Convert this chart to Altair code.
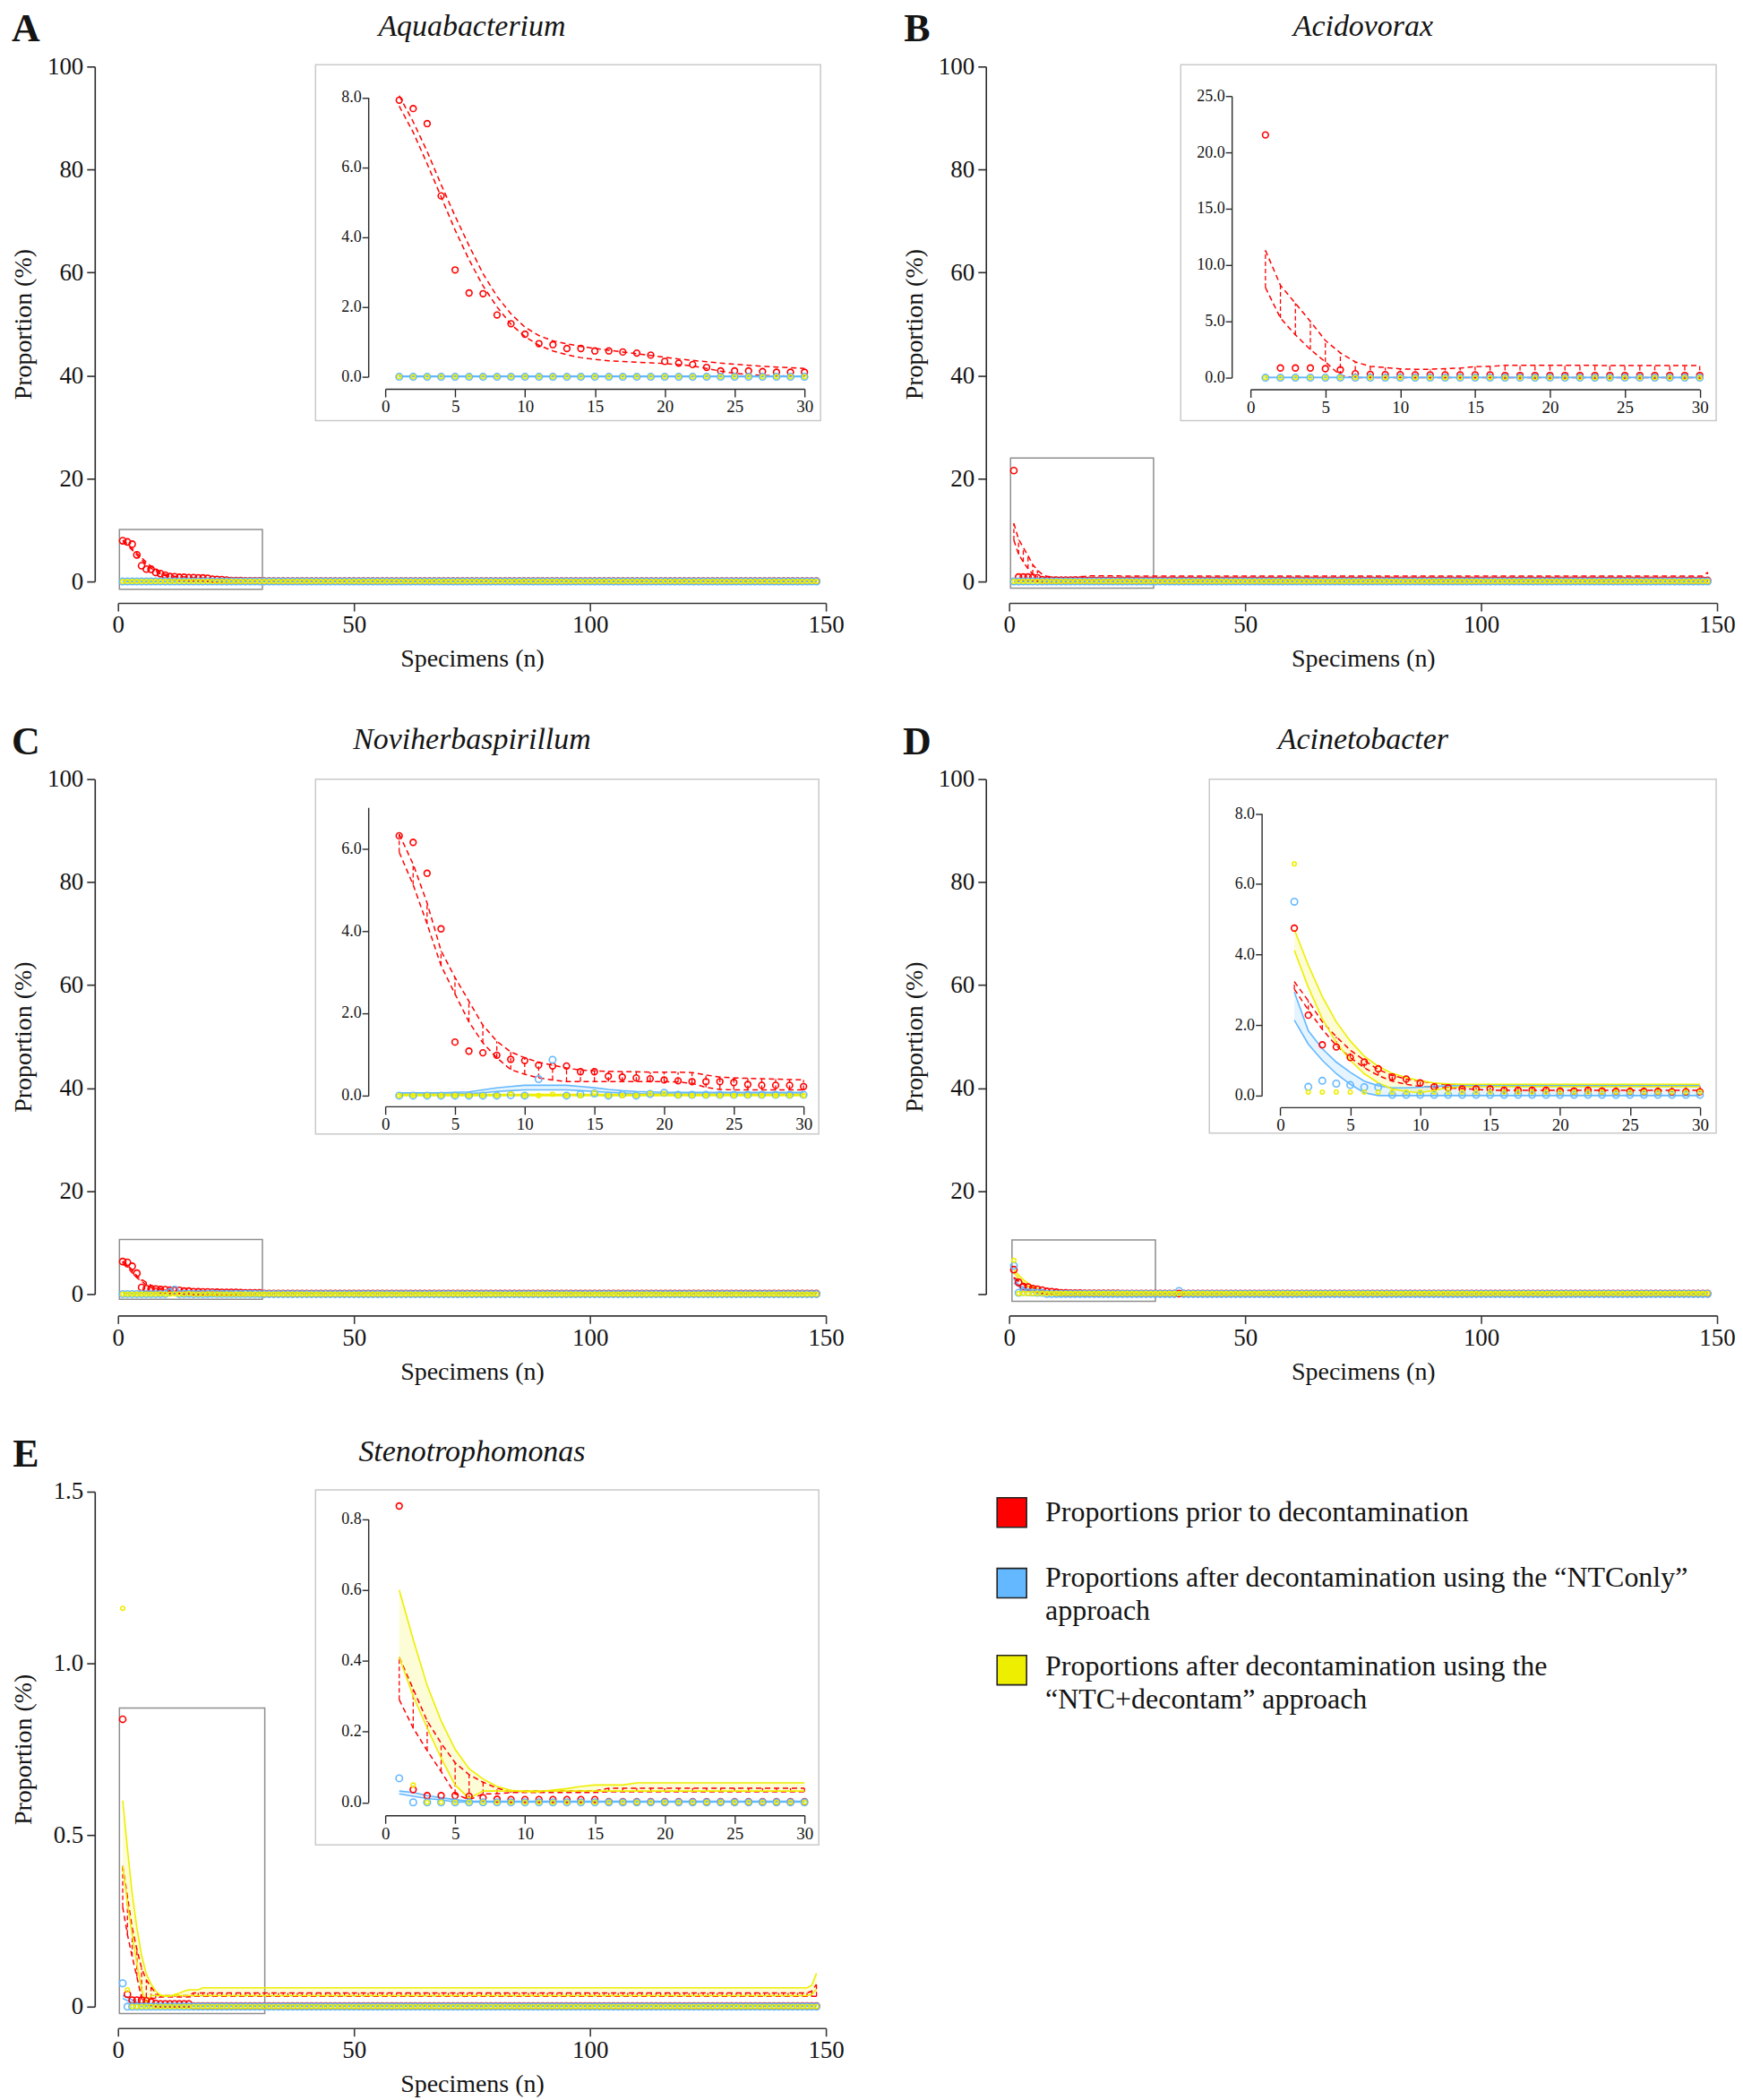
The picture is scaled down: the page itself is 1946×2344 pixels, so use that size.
import altair as alt
import pandas as pd

FONT = "Liberation Serif"
INK = "#141414"
RED = "#FF0000"
BLUE = "#63B8FF"
YELLOW = "#EEEE00"
FRAME_GRAY = "#C9C9C9"
BOX_GRAY = "#8E8E8E"
AX = "#2A2A2A"
W, H = 792, 576

specimens = list(range(1, 149))

# ---------------- Panel A : Aquabacterium ----------------
A_red = [7.92, 7.68, 7.25, 5.18, 3.06, 2.40, 2.38, 1.77, 1.52, 1.22,
         0.95, 0.92, 0.81, 0.81, 0.74, 0.74, 0.71, 0.68, 0.62, 0.44,
         0.39, 0.35, 0.27, 0.17, 0.17, 0.17, 0.15, 0.13, 0.13, 0.13] + [0.08] * 118
A_blue = [0.0] * 148
A_yellow = [0.0] * 148
A_red_hi = [8.05, 7.30, 6.45, 5.50, 4.60, 3.75, 2.95, 2.30, 1.80, 1.42,
            1.18, 1.03, 0.94, 0.87, 0.81, 0.76, 0.71, 0.66, 0.61, 0.56,
            0.51, 0.47, 0.43, 0.39, 0.36, 0.33, 0.30, 0.28, 0.26, 0.24] + [0.20] * 118
A_red_lo = [7.75, 7.00, 6.10, 5.15, 4.20, 3.35, 2.60, 2.00, 1.50, 1.15,
            0.90, 0.74, 0.63, 0.55, 0.50, 0.46, 0.44, 0.42, 0.40, 0.38,
            0.35, 0.31, 0.24, 0.16, 0.10, 0.06, 0.04, 0.03, 0.02, 0.02] + [0.0] * 118
A_blue_hi = [0.02] * 148
A_blue_lo = [0.0] * 148

# ---------------- Panel B : Acidovorax ----------------
B_red = [21.55, 0.86, 0.86, 0.86, 0.80, 0.70, 0.35, 0.29, 0.27, 0.27,
         0.25, 0.25, 0.25, 0.25, 0.25, 0.25] + [0.20] * 14 + [0.20] * 118
B_blue = [0.0] * 148
B_yellow = [0.0] * 148
B_red_hi = [11.3, 8.2, 6.6, 5.0, 3.3, 2.2, 1.4, 1.0, 0.9, 0.78,
            0.75, 0.75, 0.80, 0.85, 0.98, 1.0, 1.1, 1.1, 1.1, 1.1,
            1.1, 1.1, 1.1, 1.07, 1.07, 1.07, 1.07, 1.07, 1.07, 1.07] + [1.07] * 117 + [1.8]
B_red_lo = [8.0, 5.3, 3.8, 2.5, 1.4, 0.2] + [0.0] * 24 + [0.0] * 118
B_blue_hi = [0.02] * 148
B_blue_lo = [0.0] * 148

# ---------------- Panel C : Noviherbaspirillum ----------------
C_red = [6.31, 6.15, 5.40, 4.05, 1.30, 1.08, 1.04, 0.98, 0.88, 0.85,
         0.74, 0.72, 0.72, 0.58, 0.58, 0.47, 0.45, 0.43, 0.41, 0.38,
         0.36, 0.34, 0.34, 0.34, 0.32, 0.27, 0.25, 0.25, 0.25, 0.22] + [0.10] * 118
C_red_hi = [6.35, 5.62, 4.68, 3.52, 2.87, 2.29, 1.71, 1.32, 1.06, 0.92,
            0.81, 0.74, 0.67, 0.62, 0.60, 0.59, 0.58, 0.58, 0.57, 0.57,
            0.57, 0.56, 0.50, 0.45, 0.43, 0.42, 0.41, 0.40, 0.39, 0.38] + [0.35] * 118
C_red_lo = [5.91, 5.12, 4.17, 3.16, 2.47, 1.79, 1.28, 0.92, 0.63, 0.52,
            0.43, 0.38, 0.34, 0.34, 0.34, 0.34, 0.34, 0.34, 0.34, 0.34,
            0.33, 0.30, 0.20, 0.15, 0.14, 0.14, 0.14, 0.14, 0.14, 0.14] + [0.10] * 118
C_blue = [0.0, 0.0, 0.0, 0.0, 0.0, 0.0, 0.0, 0.0, 0.01, 0.0,
          0.40, 0.87, 0.0, 0.03, 0.05, 0.0, 0.03, 0.0, 0.04, 0.07] + [0.02] * 10 + [0.0] * 118
C_blue_hi = [0.07, 0.07, 0.07, 0.07, 0.08, 0.09, 0.14, 0.19, 0.22, 0.25,
             0.25, 0.25, 0.25, 0.22, 0.19, 0.15, 0.12, 0.10, 0.09, 0.08] + [0.08] * 10 + [0.06] * 118
C_blue_lo = [0.04, 0.04, 0.04, 0.04, 0.04, 0.05, 0.07, 0.10, 0.12, 0.14,
             0.14, 0.14, 0.14, 0.12, 0.10, 0.08, 0.06, 0.05, 0.04, 0.04] + [0.04] * 10 + [0.03] * 118
C_yellow = [0.0, 0.0, 0.0, 0.0, 0.0, 0.0, 0.0, 0.0, 0.04, 0.0,
            0.0, 0.03, 0.0, 0.0, 0.07, 0.0, 0.0, 0.0, 0.05, 0.05] + [0.0] * 10 + [0.0] * 118
C_yellow_hi = [0.03] * 148
C_yellow_lo = [0.0] * 148

# ---------------- Panel D : Acinetobacter ----------------
D_red = [4.75, 2.28, 1.44, 1.38, 1.08, 0.95, 0.76, 0.53, 0.47, 0.36,
         0.25, 0.22, 0.19, 0.19, 0.19, 0.15, 0.15, 0.15, 0.15, 0.13,
         0.13, 0.15, 0.13, 0.12, 0.12, 0.12, 0.12, 0.11, 0.11, 0.11] + [0.10] * 118
D_blue = [5.5, 0.25, 0.42, 0.34, 0.30, 0.24, 0.24] + [0.02] * 23 + [0.02] * 5 + [0.6] + [0.02] * 112
D_yellow = [6.57] + [0.10] * 29 + [0.10] * 118
D_yellow_hi = [4.71, 3.70, 2.81, 2.09, 1.55, 1.12, 0.83, 0.63, 0.51, 0.42,
               0.36, 0.33] + [0.32] * 18 + [0.32] * 118
D_yellow_lo = [4.12, 3.07, 2.18, 1.50, 1.00, 0.62, 0.36, 0.19, 0.12, 0.08,
               0.15, 0.22] + [0.25] * 18 + [0.25] * 118
D_red_hi = [3.23, 2.69, 2.09, 1.67, 1.29, 1.00, 0.74, 0.57, 0.47, 0.41,
            0.35, 0.31, 0.29] + [0.28] * 17 + [0.28] * 118
D_red_lo = [3.02, 2.43, 1.88, 1.42, 1.08, 0.79, 0.57, 0.41, 0.32, 0.26,
            0.24, 0.22, 0.20, 0.18] + [0.15] * 16 + [0.15] * 118
D_blue_hi = [2.94, 1.84, 1.33, 0.95, 0.66, 0.41, 0.28, 0.22, 0.22, 0.24,
             0.26] + [0.28] * 19 + [0.28] * 118
D_blue_lo = [2.14, 1.46, 1.00, 0.62, 0.32, 0.08] + [0.0] * 24 + [0.0] * 118

# ---------------- Panel E : Stenotrophomonas ----------------
E_red = [0.837, 0.036, 0.019, 0.019, 0.019, 0.017, 0.013, 0.009, 0.008, 0.008,
         0.008, 0.008, 0.008, 0.008, 0.008] + [0.002] * 15 + [0.002] * 118
E_blue = [0.068] + [0.0] * 29 + [0.0] * 118
E_yellow = [1.16, 0.049] + [0.0] * 28 + [0.0] * 118
E_yellow_hi = [0.60, 0.46, 0.33, 0.23, 0.15, 0.095, 0.066, 0.045, 0.034, 0.030,
               0.030, 0.035, 0.039, 0.045, 0.049, 0.049, 0.049] + [0.055] * 13 + [0.055] * 116 + [0.062, 0.097]
E_yellow_lo = [0.41, 0.30, 0.21, 0.125, 0.049, 0.011] + [0.032] * 24 + [0.032] * 116 + [0.035, 0.05]
E_red_hi = [0.41, 0.32, 0.23, 0.167, 0.112, 0.078, 0.057, 0.040, 0.030] + [0.032] * 6 + [0.040] * 15 + [0.040] * 116 + [0.045, 0.065]
E_red_lo = [0.29, 0.21, 0.146, 0.087, 0.024, 0.007, 0.024, 0.024] + [0.028] * 7 + [0.030] * 15 + [0.030] * 118
E_blue_hi = [0.032, 0.028, 0.019, 0.013, 0.008] + [0.003] * 25 + [0.003] * 118
E_blue_lo = [0.024, 0.017, 0.011, 0.007] + [0.001] * 26 + [0.001] * 118

# ---------------- Legend ----------------
legend_colors = [RED, BLUE, YELLOW]
legend_lines = [
    ["Proportions prior to decontamination"],
    ["Proportions after decontamination using the \u201cNTConly\u201d", "approach"],
    ["Proportions after decontamination using the", "\u201cNTC+decontam\u201d approach"],
]

ONE = pd.DataFrame({"k": [0]})
NO_FRAME = alt.ViewBackground(stroke="transparent", strokeWidth=0)

PANELS = [
    dict(letter="A", name="Aquabacterium", ymax=100, yvals=[0, 20, 40, 60, 80, 100], yexpr=None,
         red=A_red, blue=A_blue, yellow=A_yellow, red_hi=A_red_hi, red_lo=A_red_lo,
         blue_hi=A_blue_hi, blue_lo=A_blue_lo, yellow_hi=None, yellow_lo=None,
         box=[0.3, 30.6, -1.5, 10.1], hatch=False, anchor=True,
         ins=dict(frame=[221, 786, -2, 396], yax=280, xax=360.5, xr=[299, 768], yr=[347, 34.5],
                  ymax=8, yvals=[0, 2, 4, 6, 8], clip=8.9)),
    dict(letter="B", name="Acidovorax", ymax=100, yvals=[0, 20, 40, 60, 80, 100], yexpr=None,
         red=B_red, blue=B_blue, yellow=B_yellow, red_hi=B_red_hi, red_lo=B_red_lo,
         blue_hi=B_blue_hi, blue_lo=B_blue_lo, yellow_hi=None, yellow_lo=None,
         box=[0.3, 30.6, -1.3, 24.0], hatch=True, anchor=False,
         ins=dict(frame=[192, 791, -2, 396], yax=249, xax=361, xr=[270, 772.6], yr=[348, 33],
                  ymax=25, yvals=[0, 5, 10, 15, 20, 25], clip=27.7)),
    dict(letter="C", name="Noviherbaspirillum", ymax=100, yvals=[0, 20, 40, 60, 80, 100], yexpr=None,
         red=C_red, blue=C_blue, yellow=C_yellow, red_hi=C_red_hi, red_lo=C_red_lo,
         blue_hi=C_blue_hi, blue_lo=C_blue_lo, yellow_hi=C_yellow_hi, yellow_lo=C_yellow_lo,
         box=[0.3, 30.6, -1.0, 10.6], hatch=True, anchor=False,
         ins=dict(frame=[221, 784, 0, 397], yax=280, xax=366, xr=[299, 767], yr=[354, 31.6],
                  ymax=7, yvals=[0, 2, 4, 6], clip=7.6)),
    dict(letter="D", name="Acinetobacter", ymax=100, yvals=[0, 20, 40, 60, 80, 100],
         yexpr="datum.value == 0 ? '' : datum.label",
         red=D_red, blue=D_blue, yellow=D_yellow, red_hi=D_red_hi, red_lo=D_red_lo,
         blue_hi=D_blue_hi, blue_lo=D_blue_lo, yellow_hi=D_yellow_hi, yellow_lo=D_yellow_lo,
         box=[0.6, 31.0, -1.4, 10.5], hatch=True, anchor=False,
         ins=dict(frame=[224, 791, 0, 396], yax=282.5, xax=367, xr=[303.4, 772.8], yr=[354, 38.5],
                  ymax=8, yvals=[0, 2, 4, 6, 8], clip=8.9)),
    dict(letter="E", name="Stenotrophomonas", ymax=1.5, yvals=[0, 0.5, 1.0, 1.5],
         yexpr="datum.value == 0 ? '0' : format(datum.value, '.1f')",
         red=E_red, blue=E_blue, yellow=E_yellow, red_hi=E_red_hi, red_lo=E_red_lo,
         blue_hi=E_blue_hi, blue_lo=E_blue_lo, yellow_hi=E_yellow_hi, yellow_lo=E_yellow_lo,
         box=[0.3, 31.1, -0.02, 0.87], hatch=True, anchor=False,
         ins=dict(frame=[221, 784, -2, 395], yax=280, xax=362, xr=[299, 768], yr=[347.5, 30.7],
                  ymax=0.8, yvals=[0, 0.2, 0.4, 0.6, 0.8], clip=0.88)),
]


def main_x_axis():
    return alt.Axis(values=[0, 50, 100, 150], offset=24, grid=False, labelFlush=False, labelOverlap=False,
                    domainColor="#3A3A3A", domainWidth=1.6, tickColor="#3A3A3A", tickWidth=1.6, tickSize=9,
                    labelFont=FONT, labelFontSize=27, labelColor=INK, labelPadding=3,
                    title="Specimens (n)", titleFont=FONT, titleFontSize=28, titleFontWeight="normal",
                    titleColor=INK, titleY=63, titleBaseline="middle")


def main_y_axis(vals, expr):
    kw = {}
    if expr:
        kw["labelExpr"] = expr
    return alt.Axis(values=vals, offset=26, grid=False, labelFlush=False, labelOverlap=False,
                    domainColor=AX, domainWidth=1.6, tickColor=AX, tickWidth=1.6, tickSize=9,
                    labelFont=FONT, labelFontSize=27, labelColor=INK, labelPadding=4,
                    title="Proportion (%)", titleFont=FONT, titleFontSize=28, titleFontWeight="normal",
                    titleColor=INK, titleX=-79, titleBaseline="middle", **kw)


def inset_x_axis(off):
    return alt.Axis(values=[0, 5, 10, 15, 20, 25, 30], orient="bottom", offset=off, grid=False,
                    labelFlush=False, labelOverlap=False, domainColor=AX, domainWidth=1.4,
                    tickColor=AX, tickWidth=1.4, tickSize=9, labelFont=FONT, labelFontSize=19,
                    labelColor=INK, labelPadding=2, title=None, zindex=1)


def inset_y_axis(off, vals):
    return alt.Axis(values=vals, orient="left", offset=off, format=".1f", grid=False,
                    labelFlush=False, labelOverlap=False, domainColor=AX, domainWidth=1.4,
                    tickColor=AX, tickWidth=1.4, tickSize=7, labelFont=FONT, labelFontSize=18,
                    labelColor=INK, labelPadding=1, title=None, zindex=1)


def data_layers(p, n, xenc, yenc, sizes, clip=None):
    xs = specimens[:n]
    out = []
    # shaded bands (yellow, blue)
    for key, color in (("yellow", YELLOW), ("blue", BLUE)):
        hi, lo = p[key + "_hi"], p[key + "_lo"]
        if hi is None:
            continue
        band = pd.DataFrame({"x": xs, "y": lo[:n], "y2": hi[:n]})
        out.append(alt.Chart(band).mark_area(color=color, opacity=0.16)
                   .encode(x=xenc, y=yenc, y2=alt.Y2("y2")))
    # red dashed band with vertical hatching
    if p["hatch"]:
        band = pd.DataFrame({"x": xs, "y": p["red_lo"][:n], "y2": p["red_hi"][:n]})
        out.append(alt.Chart(band).mark_rule(color=RED, strokeWidth=1.3, strokeDash=[5, 3])
                   .encode(x=xenc, y=yenc, y2=alt.Y2("y2")))
    for arr in (p["red_lo"], p["red_hi"]):
        d = pd.DataFrame({"x": xs, "y": arr[:n]})
        out.append(alt.Chart(d).mark_line(color=RED, strokeWidth=1.5, strokeDash=[6, 4])
                   .encode(x=xenc, y=yenc))
    for key, color in (("blue", BLUE), ("yellow", YELLOW)):
        hi, lo = p[key + "_hi"], p[key + "_lo"]
        if hi is None:
            continue
        for arr in (lo, hi):
            d = pd.DataFrame({"x": xs, "y": arr[:n]})
            out.append(alt.Chart(d).mark_line(color=color, strokeWidth=1.6).encode(x=xenc, y=yenc))
    # points
    for key, color, size in (("red", RED, sizes[0]), ("blue", BLUE, sizes[1]), ("yellow", YELLOW, sizes[2])):
        d = pd.DataFrame({"x": xs, "y": p[key][:n]})
        if clip is not None:
            d = d[d["y"] <= clip]
        out.append(alt.Chart(d).mark_point(shape="circle", filled=False, color=color, size=size,
                                           strokeWidth=1.6, opacity=1)
                   .encode(x=xenc, y=yenc))
    return out


def text_layer(txt, x, y, size, style="normal", weight="normal"):
    return (alt.Chart(ONE)
            .mark_text(text=txt, font=FONT, fontSize=size, fontStyle=style, fontWeight=weight,
                       color=INK, align="center", baseline="middle")
            .encode(x=alt.value(x), y=alt.value(y)))


def build_panel(p):
    mx = alt.X("x:Q", scale=alt.Scale(domain=[0, 150], nice=False, zero=False), axis=main_x_axis())
    my = alt.Y("y:Q", scale=alt.Scale(domain=[0, p["ymax"]], nice=False, zero=False),
               axis=main_y_axis(p["yvals"], p["yexpr"]))
    main = []
    b = p["box"]
    box = pd.DataFrame({"x": [b[0]], "x2": [b[1]], "y": [b[2]], "y2": [b[3]]})
    main.append(alt.Chart(box).mark_rect(fillOpacity=0, stroke=BOX_GRAY, strokeWidth=1.5)
                .encode(x=mx, x2=alt.X2("x2"), y=my, y2=alt.Y2("y2")))
    main += data_layers(p, 148, mx, my, (50, 55, 20))
    main.append(text_layer(p["name"], W / 2, -44, 34, style="italic"))
    main.append(text_layer(p["letter"], -103, -41, 44, weight="bold"))
    if p["anchor"]:
        main.append(alt.Chart(ONE).mark_rect(opacity=0)
                    .encode(x=alt.value(-123.5), x2=alt.value(-121), y=alt.value(-63.7), y2=alt.value(-61)))

    q = p["ins"]
    ix = alt.X("x:Q", scale=alt.Scale(domain=[0, 30], range=q["xr"], nice=False, zero=False),
               axis=inset_x_axis(q["xax"] - H))
    iy = alt.Y("y:Q", scale=alt.Scale(domain=[0, q["ymax"]], range=q["yr"], nice=False, zero=False),
               axis=inset_y_axis(-q["yax"], q["yvals"]))
    f = q["frame"]
    inset = [alt.Chart(ONE).mark_rect(fillOpacity=0, stroke=FRAME_GRAY, strokeWidth=1.5)
             .encode(x=alt.value(f[0]), x2=alt.value(f[1]), y=alt.value(f[2]), y2=alt.value(f[3]))]
    inset += data_layers(p, 30, ix, iy, (45, 55, 20), clip=q["clip"])

    return (alt.layer(alt.layer(*main).properties(view=NO_FRAME),
                      alt.layer(*inset).properties(view=NO_FRAME))
            .resolve_scale(x="independent", y="independent")
            .properties(width=W, height=H, view=NO_FRAME))


def build_legend():
    layers = []
    sq_y = [23.3, 102.3, 199.6]
    line_y = [[23.3], [96.3, 133.0], [195.8, 232.3]]
    for color, sy, lines, ly in zip(legend_colors, sq_y, legend_lines, line_y):
        layers.append(alt.Chart(ONE).mark_square(size=1089, color=color, filled=True, opacity=1,
                                                 stroke="#222222", strokeWidth=1.6)
                      .encode(x=alt.value(3), y=alt.value(sy)))
        for txt, yy in zip(lines, ly):
            layers.append(alt.Chart(ONE).mark_text(text=txt, font=FONT, fontSize=32, color=INK,
                                                   align="left", baseline="middle")
                          .encode(x=alt.value(40.5), y=alt.value(yy)))
    return alt.layer(*layers).properties(width=W, height=H, view=NO_FRAME)


charts = [build_panel(p) for p in PANELS] + [build_legend()]

chart = (alt.concat(*charts, columns=2, spacing={"row": 221, "column": 205}, bounds="flush")
         .properties(padding=0)
         .configure_view(stroke="transparent", strokeWidth=0)
         .configure(background="white"))

chart.save("out.html", embed_options={"renderer": "svg", "actions": False})
